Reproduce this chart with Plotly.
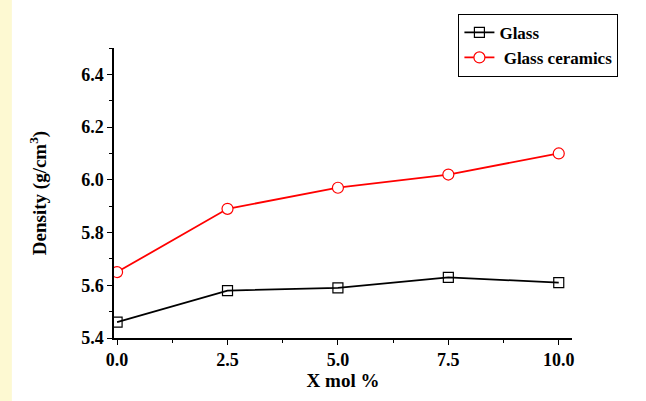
import plotly.graph_objects as go

x_mol = [0.0, 2.5, 5.0, 7.5, 10.0]
glass = [5.46, 5.58, 5.59, 5.63, 5.61]
glass_ceramics = [5.65, 5.89, 5.97, 6.02, 6.10]
x_ticks = [0.0, 2.5, 5.0, 7.5, 10.0]
x_tick_labels = ["0.0", "2.5", "5.0", "7.5", "10.0"]
y_ticks = [5.4, 5.6, 5.8, 6.0, 6.2, 6.4]
y_tick_labels = ["5.4", "5.6", "5.8", "6.0", "6.2", "6.4"]

FONT = "Liberation Serif"

fig = go.Figure()
fig.add_trace(go.Scatter(
    x=x_mol, y=glass, mode="lines+markers", name="<b>Glass</b>",
    line=dict(color="black", width=1.8),
    marker=dict(symbol="square-open", size=10, color="black", line=dict(width=1.2)),
))
fig.add_trace(go.Scatter(
    x=x_mol, y=glass_ceramics, mode="lines+markers", name="<b>\u00a0Glass ceramics</b>",
    line=dict(color="#ff0000", width=1.8),
    marker=dict(symbol="circle", size=11, color="white", line=dict(color="#ff0000", width=1.2)),
))

fig.add_shape(type="rect", xref="paper", yref="paper", x0=-0.249, x1=-0.223, y0=-0.217, y1=1.166,
              fillcolor="#fdf9d2", line=dict(width=0), layer="below")

fig.update_layout(
    width=646, height=401,
    margin=dict(l=114, r=74, t=48, b=63),
    paper_bgcolor="white", plot_bgcolor="white",
    font=dict(family=FONT, size=18, color="black"),
    showlegend=True,
    legend=dict(
        x=0.752, y=1.118, xanchor="left", yanchor="top",
        bordercolor="black", borderwidth=1, bgcolor="white",
        font=dict(family=FONT, size=17, color="black"),
        tracegroupgap=0, itemwidth=30,
    ),
    xaxis=dict(
        range=[-0.07, 10.3], showgrid=False, zeroline=False,
        showline=True, linecolor="black", linewidth=1.5,
        ticks="outside", ticklen=5, tickwidth=1.2, tickcolor="black",
        tickvals=x_ticks, ticktext=["<b>%s</b>" % t for t in x_tick_labels],
        tickfont=dict(family=FONT, size=18),
        minor=dict(ticks="outside", ticklen=3, dtick=1.25, tick0=0, tickcolor="black", tickwidth=1),
        title=dict(text="<b>X mol %</b>", font=dict(family=FONT, size=19), standoff=2),
    ),
    yaxis=dict(
        range=[5.4, 6.5], showgrid=False, zeroline=False,
        showline=True, linecolor="black", linewidth=1.5,
        ticks="outside", ticklen=5, tickwidth=1.2, tickcolor="black",
        tickvals=y_ticks, ticktext=["<b>%s</b>" % t for t in y_tick_labels],
        tickfont=dict(family=FONT, size=18),
        minor=dict(ticks="outside", ticklen=3, dtick=0.1, tick0=5.4, tickcolor="black", tickwidth=1),
        title=dict(text="<b>Density (g/cm<sup>3</sup>)</b>", font=dict(family=FONT, size=19), standoff=30),
    ),
)

fig.write_html("out.html")
